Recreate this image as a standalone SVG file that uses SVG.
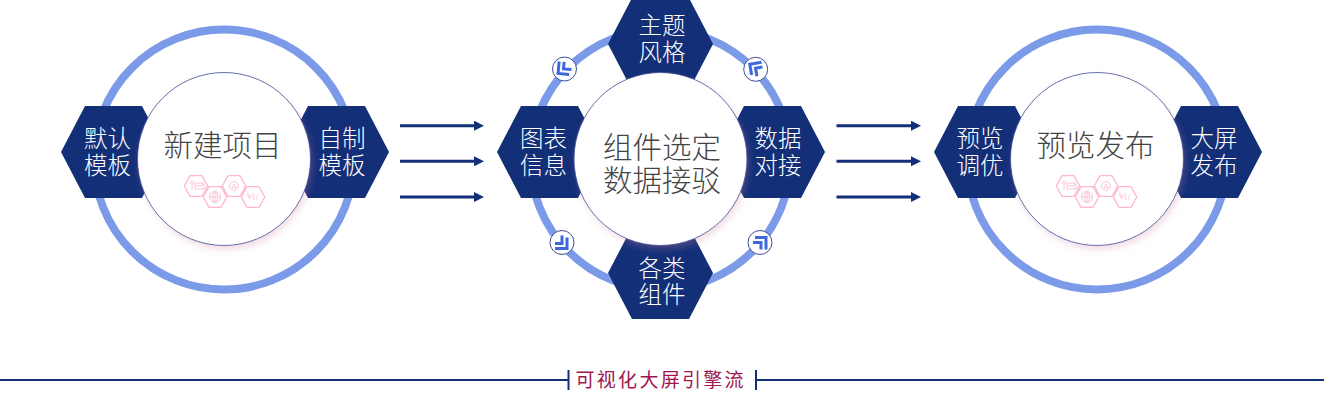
<svg xmlns="http://www.w3.org/2000/svg" xmlns:xlink="http://www.w3.org/1999/xlink" width="1324" height="403" viewBox="0 0 1324 403">
<style>
.ring{fill:none;stroke:#7b9ae8;stroke-width:8}
.hex{fill:#132f78}
.disc{fill:#fff;stroke:#3d4c97;stroke-width:.8;filter:url(#sh)}
.lab{font-family:"Noto Sans CJK SC","Liberation Sans",sans-serif;font-size:23.500px;font-weight:300;fill:#fff;text-anchor:middle}
.title{font-family:"Noto Sans CJK SC","Liberation Sans",sans-serif;font-size:29.500px;font-weight:300;fill:#444;text-anchor:middle}
.badge{fill:#fff;stroke:#3d4c97;stroke-width:1}
.chev{fill:none;stroke:#3f68e0;stroke-width:3}
.arrow{stroke:#132f78;stroke-width:3;fill:none;marker-end:url(#ah)}
.rule{stroke:#132f78;stroke-width:2;fill:none}
.ic{fill:none;stroke:#ffb6d0;stroke-width:1.300}
.ic2{fill:none;stroke:#fcc4d9;stroke-width:1}
.foot{font-family:"Noto Sans CJK SC","Liberation Sans",sans-serif;font-size:19px;letter-spacing:2.300px;fill:#a0174f}
</style>
<defs>
<filter id="sh" x="-20%" y="-20%" width="145%" height="145%"><feDropShadow dx="2" dy="4" stdDeviation="3" flood-color="#d07a9c" flood-opacity=".25"/></filter>
<marker id="ah" markerUnits="userSpaceOnUse" markerWidth="10" markerHeight="10" refX="2" refY="5" orient="auto"><path d="M0,0L10,5L0,10z" fill="#132f78"/></marker>
<polygon id="h" points="-52.500,0 -28.500,-46 28.500,-46 52.500,0 28.500,46 -28.500,46" class="hex"/>
<path id="ihex" class="ic" d="M-6,-10.300H6L11.700,0 6,10.300H-6L-11.700,0z"/>
<g id="chv"><path class="chev" d="M-6,-7V5H5"/><path class="chev" d="M-1,-7V0H7"/></g>
<g id="icons">
<use xlink:href="#ihex" href="#ihex" x="-28" y="0"/>
<use xlink:href="#ihex" href="#ihex" x="-9" y="11"/>
<use xlink:href="#ihex" href="#ihex" x="10" y="0"/>
<use xlink:href="#ihex" href="#ihex" x="29" y="11"/>
<path class="ic2" d="M-33.500,-3.500a1.500,1.500 0 1,0 3,0a1.500,1.500 0 1,0 -3,0M-32,-2v6M-29,-3h9v6h-9zM-29,1l3,-2 2,1.500 4,-2.500"/>
<circle class="ic2" cx="-9" cy="11" r="5.500"/><path class="ic2" d="M-14.500,11h11M-9,5.500v11M-9,5.500c-3.500,3-3.500,8 0,11M-9,5.500c3.500,3 3.500,8 0,11"/>
<circle class="ic2" cx="10" cy="0" r="4.500"/><path class="ic2" d="M10,-2l2.500,4h-5z"/>
<path class="ic2" d="M24,6v5h3M26,8.500v5M29,7v6h2M33,9v5"/>
</g>
</defs>

<g id="connectors">
<path class="arrow" d="M400,125.700H476"/>
<path class="arrow" d="M400,161.300H476"/>
<path class="arrow" d="M400,197H476"/>
<path class="arrow" d="M836.500,125.700H913"/>
<path class="arrow" d="M836.500,161.300H913"/>
<path class="arrow" d="M836.500,197H913"/>
</g>

<g id="ring-left"><circle class="ring" cx="224" cy="159.500" r="130"/></g>
<g id="ring-center"><circle class="ring" cx="660.500" cy="159.500" r="130"/>
<g id="badge-tl"><circle class="badge" cx="564.500" cy="69" r="12"/><use xlink:href="#chv" href="#chv" transform="translate(564.500,69) rotate(5)"/></g>
<g id="badge-tr"><circle class="badge" cx="755.700" cy="69.300" r="12"/><use xlink:href="#chv" href="#chv" transform="translate(755.700,69.300) rotate(80)"/></g>
<g id="badge-bl"><circle class="badge" cx="562" cy="242.500" r="12"/><use xlink:href="#chv" href="#chv" transform="translate(562,242.500) rotate(270)"/></g>
<g id="badge-br"><circle class="badge" cx="760" cy="242.500" r="12"/><use xlink:href="#chv" href="#chv" transform="translate(760,242.500) rotate(180)"/></g>
</g>
<g id="ring-right"><circle class="ring" cx="1097" cy="159.500" r="130"/></g>

<g id="node-moren"><use xlink:href="#h" href="#h" transform="translate(113.500,152)"/><text class="lab"><tspan x="107.500" y="147">默认</tspan><tspan x="107.500" y="174">模板</tspan></text></g>
<g id="node-zizhi"><use xlink:href="#h" href="#h" transform="translate(336.500,152)"/><text class="lab"><tspan x="342" y="147">自制</tspan><tspan x="342" y="174">模板</tspan></text></g>
<g id="node-xinjian"><circle class="disc" cx="224" cy="159" r="86.500"/><text class="title" x="222.500" y="156">新建项目</text><use xlink:href="#icons" href="#icons" transform="translate(224,186)"/></g>

<g id="node-tubiao"><use xlink:href="#h" href="#h" transform="translate(549.500,152)"/><text class="lab"><tspan x="543.500" y="147">图表</tspan><tspan x="543.500" y="174">信息</tspan></text></g>
<g id="node-shuju"><use xlink:href="#h" href="#h" transform="translate(772.500,152)"/><text class="lab"><tspan x="778" y="147">数据</tspan><tspan x="778" y="174">对接</tspan></text></g>
<g id="node-zhuti"><use xlink:href="#h" href="#h" transform="translate(660.500,44)"/><text class="lab"><tspan x="662" y="34">主题</tspan><tspan x="662" y="61">风格</tspan></text></g>
<g id="node-gelei"><use xlink:href="#h" href="#h" transform="translate(660.500,273)"/><text class="lab"><tspan x="662" y="276.500">各类</tspan><tspan x="662" y="303">组件</tspan></text></g>
<g id="node-zujian"><circle class="disc" cx="660.500" cy="159" r="86.500"/><text class="title"><tspan x="662" y="158">组件选定</tspan><tspan x="662" y="191">数据接驳</tspan></text></g>

<g id="node-yulan"><use xlink:href="#h" href="#h" transform="translate(986.500,152)"/><text class="lab"><tspan x="980" y="147">预览</tspan><tspan x="980" y="174">调优</tspan></text></g>
<g id="node-daping"><use xlink:href="#h" href="#h" transform="translate(1209.500,152)"/><text class="lab"><tspan x="1214" y="147">大屏</tspan><tspan x="1214" y="174">发布</tspan></text></g>
<g id="node-fabu"><circle class="disc" cx="1097" cy="159" r="86.500"/><text class="title" x="1095.500" y="156">预览发布</text><use xlink:href="#icons" href="#icons" transform="translate(1096,186)"/></g>

<g id="footer">
<path class="rule" d="M0,380H568M568.500,370V390M756,370V390M756,380H1324"/>
<text class="foot" x="575.500" y="387">可视化大屏引擎流</text>
</g>
</svg>
